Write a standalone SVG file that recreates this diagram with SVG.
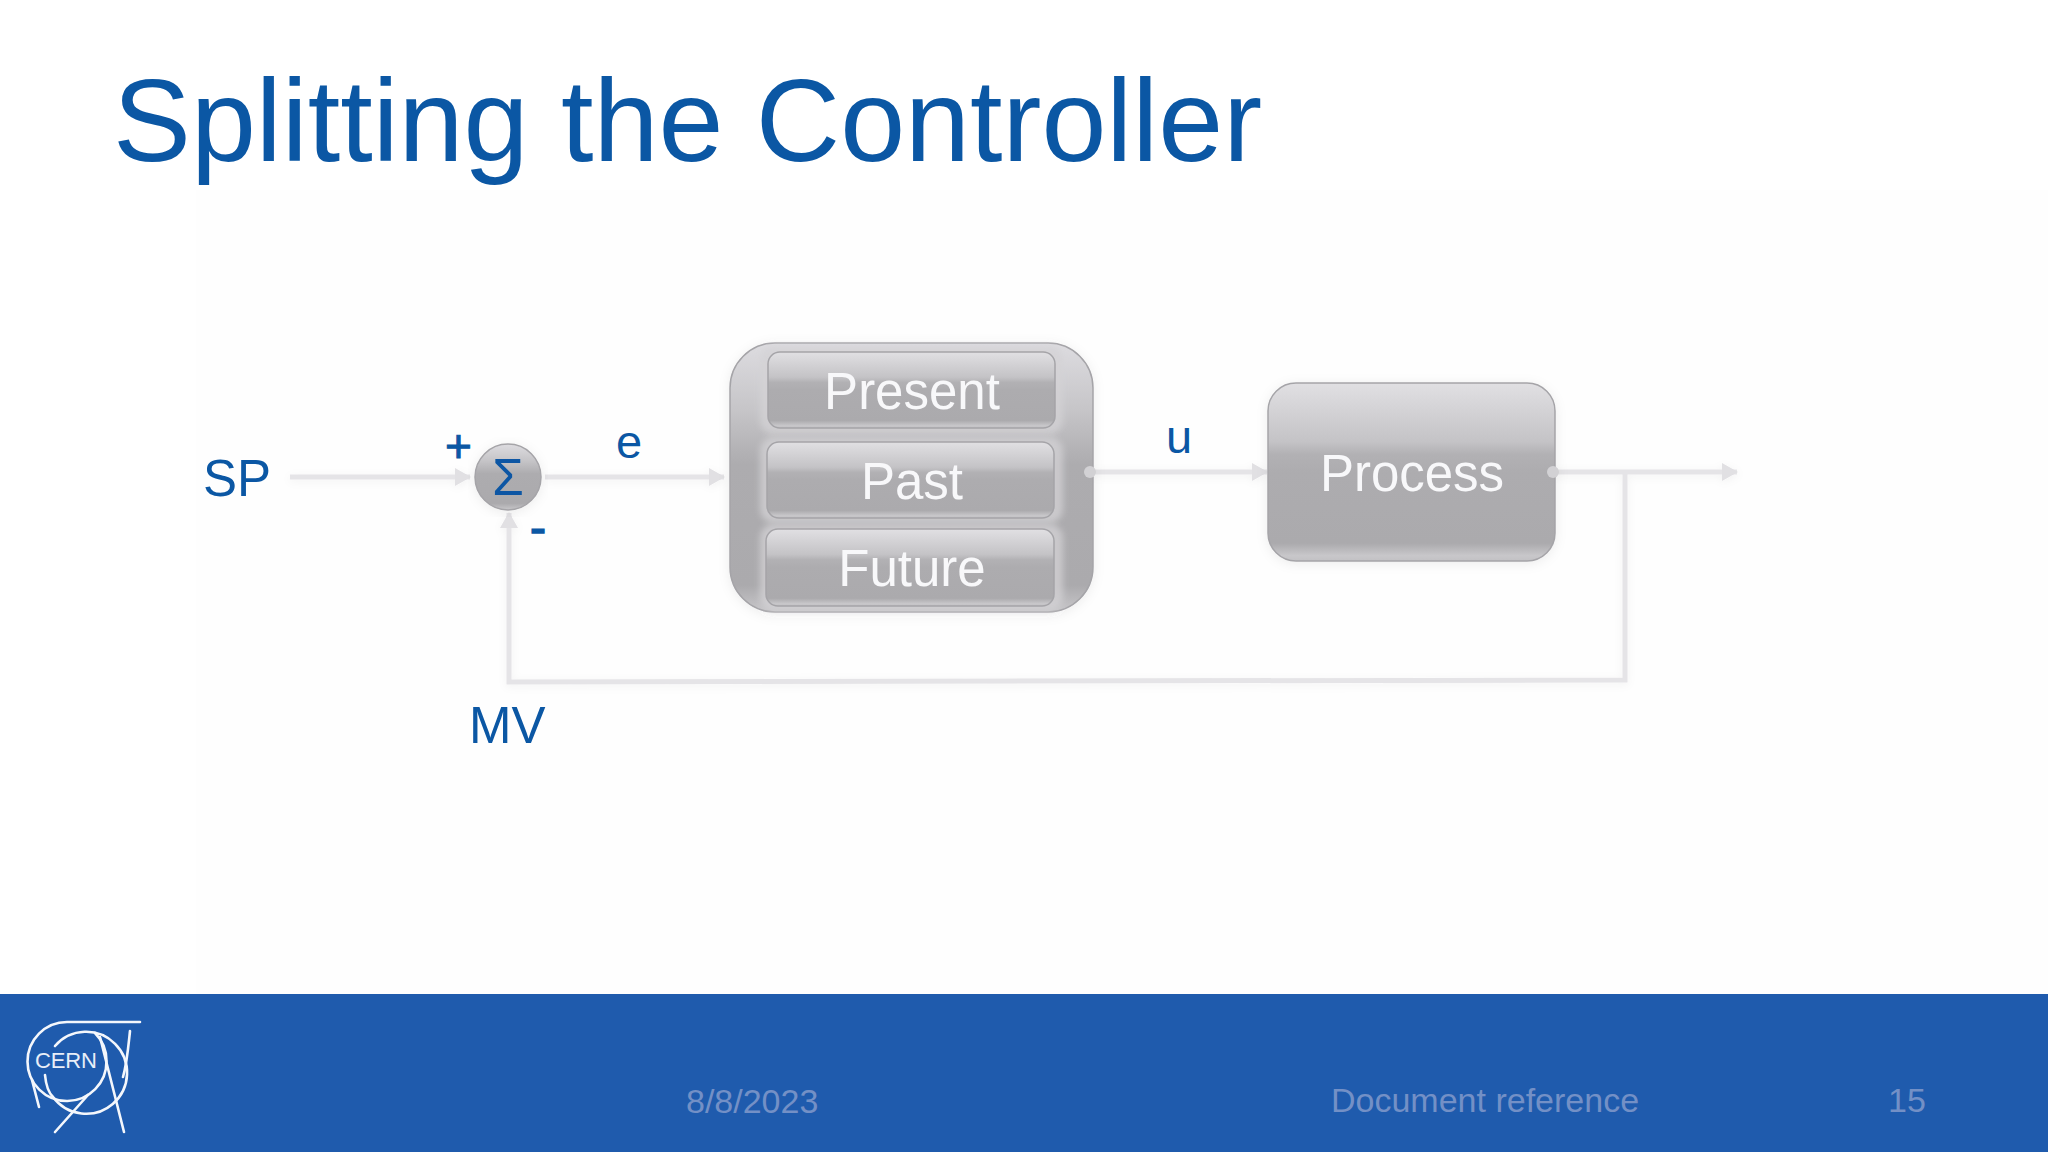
<svg xmlns="http://www.w3.org/2000/svg" width="2048" height="1152" viewBox="0 0 2048 1152">
<style>
text{font-family:"Liberation Sans",Arial,sans-serif}
.blue{fill:#0b57a4;font-size:51px}
.white{fill:#f8f8fa;font-size:51px;text-anchor:middle}
.foot{fill:#7390c6;font-size:34px}
.line{fill:none;stroke:#e5e4e7;stroke-width:5}
.logo{fill:none;stroke:#f4f7fc;stroke-width:2.6;stroke-linecap:round}
.box{stroke:#a5a4a8;stroke-width:1.5}
.glow{fill:#d4d3d6;opacity:.75;filter:url(#gl)}
</style>
<defs>
<linearGradient id="g" x1="0" y1="0" x2="0" y2="1">
<stop offset="0" stop-color="#e1e0e3"/><stop offset=".33" stop-color="#c4c3c6"/><stop offset=".4" stop-color="#b2b1b4"/><stop offset=".5" stop-color="#adacaf"/><stop offset=".9" stop-color="#abaaad"/><stop offset=".97" stop-color="#c8c7ca"/><stop offset="1" stop-color="#c2c1c4"/>
</linearGradient>
<linearGradient id="o" x1="0" y1="0" x2="0" y2="1">
<stop offset="0" stop-color="#dddce0"/><stop offset=".25" stop-color="#c6c5c8"/><stop offset=".45" stop-color="#adacaf"/><stop offset=".9" stop-color="#abaaad"/><stop offset="1" stop-color="#c8c7ca"/>
</linearGradient>
<marker id="arrow" markerUnits="userSpaceOnUse" markerWidth="16" markerHeight="18" refX="15" refY="9" orient="auto"><path d="M0 0L16 9L0 18Z" fill="#e1e0e3"/></marker>
<filter id="gl" x="-10%" y="-30%" width="120%" height="160%"><feGaussianBlur stdDeviation="3"/></filter>
<filter id="sh" x="-10%" y="-10%" width="120%" height="120%"><feDropShadow dx="0" dy="2" stdDeviation="6" flood-color="#000" flood-opacity=".07"/></filter>
<filter id="ls" filterUnits="userSpaceOnUse" x="250" y="430" width="1530" height="290"><feDropShadow dx="0" dy="2" stdDeviation="4" flood-color="#000" flood-opacity=".05"/></filter>
</defs>
<rect width="2048" height="1152" fill="#ffffff"/>
<rect x="196" y="190" width="1852" height="804" fill="#fefefe"/>
<text x="113" y="161" fill="#0b57a4" font-size="116.8">Splitting the Controller</text>

<g id="connectors" filter="url(#ls)">
<path class="line" d="M290 477H470" marker-end="url(#arrow)"/>
<path class="line" d="M545 477H724" marker-end="url(#arrow)"/>
<path class="line" d="M1093 472H1267" marker-end="url(#arrow)"/>
<path class="line" d="M1555 472H1737" marker-end="url(#arrow)"/>
<path class="line" d="M1625 472V680L509 682V513" marker-end="url(#arrow)"/>
</g>

<g id="node-sum" filter="url(#sh)">
<circle cx="508" cy="477" r="33" fill="url(#o)" class="box"/>
<text x="508" y="495" text-anchor="middle" class="blue">Σ</text>
</g>
<g id="node-controller" filter="url(#sh)">
<rect x="730" y="343" width="363" height="269" rx="45" fill="url(#o)" class="box"/>
<rect class="glow" x="760" y="346" width="303" height="88" rx="14"/>
<rect class="glow" x="760" y="437" width="303" height="86" rx="14"/>
<rect class="glow" x="760" y="524" width="303" height="87" rx="14"/>
<circle cx="1090" cy="472" r="6" fill="#d2d1d4"/>
</g>
<g id="node-present">
<rect x="768" y="352" width="287" height="76" rx="12" fill="url(#g)" class="box"/>
<text x="912" y="409" class="white">Present</text>
</g>
<g id="node-past">
<rect x="767" y="442" width="287" height="76" rx="12" fill="url(#g)" class="box"/>
<text x="912" y="499" class="white">Past</text>
</g>
<g id="node-future">
<rect x="766" y="529" width="288" height="77" rx="12" fill="url(#g)" class="box"/>
<text x="912" y="586" class="white">Future</text>
</g>
<g id="node-process" filter="url(#sh)">
<rect x="1268" y="383" width="287" height="178" rx="28" fill="url(#g)" class="box"/>
<circle cx="1553" cy="472" r="6" fill="#d2d1d4"/>
<text x="1412" y="491" class="white">Process</text>
</g>

<g id="labels">
<text x="445" y="462" class="blue" style="font-size:46px;stroke:#0b57a4;stroke-width:1">+</text>
<text x="203" y="496" class="blue">SP</text>
<text x="530" y="544" class="blue" style="font-size:48px;stroke:#0b57a4;stroke-width:1.5">-</text>
<text x="616" y="458" class="blue" style="font-size:47px">e</text>
<text x="1166" y="453" class="blue" style="font-size:47px">u</text>
<text x="469" y="743" class="blue">MV</text>
</g>

<rect x="0" y="994" width="2048" height="158" fill="#1f5bad"/>
<g id="footer">
<text x="686" y="1113" class="foot">8/8/2023</text>
<text x="1331" y="1112" class="foot">Document reference</text>
<text x="1888" y="1112" class="foot">15</text>
</g>
<g id="logo">
<path class="logo" d="M140 1022H67A39.5 39.5 0 1 0 106.500 1061A39.500 39.500 0 0 0 95 1033"/>
<path class="logo" d="M55 1046A41 41 0 1 1 53 1097C48 1092 46 1086 45 1075"/>
<path class="logo" d="M130 1031C128 1050 127 1063 123 1077"/>
<path class="logo" d="M100 1037L124 1132"/>
<path class="logo" d="M88 1095L55 1132"/>
<path class="logo" d="M32 1080L39 1107"/>
<text x="35" y="1068" fill="#e8eef8" font-size="22" textLength="62" lengthAdjust="spacing">CERN</text>
</g>
</svg>
